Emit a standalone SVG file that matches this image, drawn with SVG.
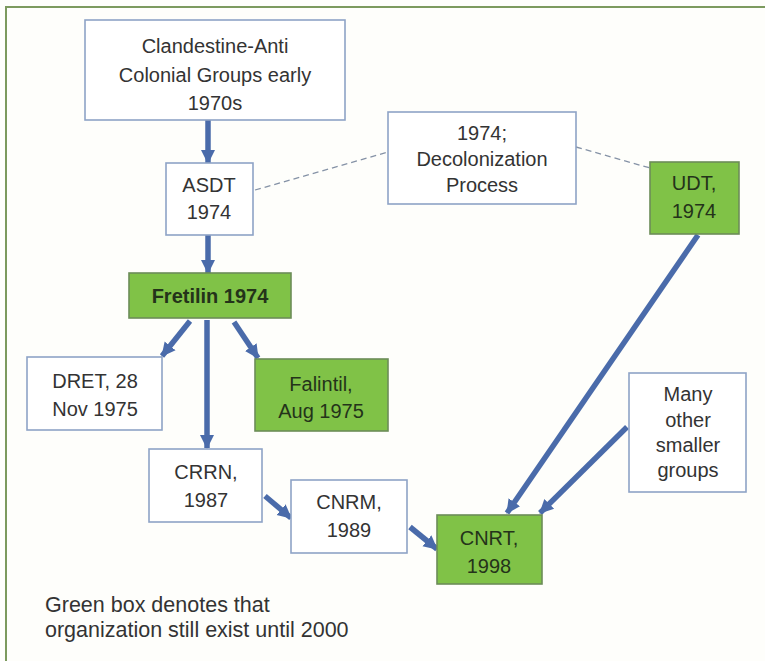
<svg xmlns="http://www.w3.org/2000/svg" width="765" height="661" viewBox="0 0 765 661">
<defs>
<style>
.box{fill:#ffffff;stroke:#8EA3C6;stroke-width:1.6}
.gbox{fill:#80C247;stroke:#6C8C58;stroke-width:1.6}
.t{font-family:"Liberation Sans",Arial,sans-serif;font-size:20px;fill:#333333;text-anchor:middle}
.gt{font-family:"Liberation Sans",Arial,sans-serif;font-size:20px;fill:#24331a;text-anchor:middle}
.lg{font-family:"Liberation Sans",Arial,sans-serif;font-size:21.5px;fill:#333333}
.arr{stroke:#4A6BAA;stroke-width:5.5;fill:none;marker-end:url(#ah)}
.dash{stroke:#8592A6;stroke-width:1.3;fill:none;stroke-dasharray:6 4}
</style>
<marker id="ah" markerUnits="userSpaceOnUse" markerWidth="16" markerHeight="16" viewBox="0 0 16 16" refX="13" refY="8" orient="auto">
<path d="M0,1 L14,8 L0,15 Z" fill="#4A6BAA"/>
</marker>
</defs>
<rect x="0" y="0" width="765" height="661" fill="#FEFEFB"/>
<path d="M6,661 V7 H765" fill="none" stroke="#7C9A5E" stroke-width="2"/>

<g id="connectors">
<line class="arr" x1="208" y1="120" x2="208" y2="163"/>
<line class="arr" x1="208" y1="235" x2="208" y2="273"/>
<line class="arr" x1="190" y1="321" x2="162" y2="356"/>
<line class="arr" x1="207" y1="320" x2="207" y2="448"/>
<line class="arr" x1="234" y1="322" x2="258" y2="358"/>
<line class="arr" x1="265" y1="496" x2="291" y2="518"/>
<line class="arr" x1="410" y1="527" x2="437" y2="549"/>
<line class="arr" x1="698" y1="235" x2="507" y2="513"/>
<line class="arr" x1="627" y1="427" x2="540" y2="513"/>
<line class="dash" x1="255" y1="190" x2="388" y2="152"/>
<line class="dash" x1="576" y1="147" x2="650" y2="168"/>
</g>

<g id="n-clandestine">
<rect class="box" x="85" y="20" width="260" height="100"/>
<text class="t" x="215" y="53">Clandestine-Anti</text>
<text class="t" x="215" y="82">Colonial Groups early</text>
<text class="t" x="215" y="110">1970s</text>
</g>
<g id="n-asdt">
<rect class="box" x="166" y="163" width="87" height="72"/>
<text class="t" x="209" y="192">ASDT</text>
<text class="t" x="209" y="219">1974</text>
</g>
<g id="n-decolonization">
<rect class="box" x="388" y="112" width="188" height="92"/>
<text class="t" x="482" y="140">1974;</text>
<text class="t" x="482" y="166">Decolonization</text>
<text class="t" x="482" y="192">Process</text>
</g>
<g id="n-udt">
<rect class="gbox" x="650" y="162" width="89" height="72"/>
<text class="gt" x="694" y="190">UDT,</text>
<text class="gt" x="694" y="218">1974</text>
</g>
<g id="n-fretilin">
<rect class="gbox" x="129" y="273" width="162" height="45"/>
<text class="gt" x="210" y="303" font-weight="bold">Fretilin 1974</text>
</g>
<g id="n-dret">
<rect class="box" x="27" y="357" width="135" height="73"/>
<text class="t" x="95" y="388">DRET, 28</text>
<text class="t" x="95" y="416">Nov 1975</text>
</g>
<g id="n-falintil">
<rect class="gbox" x="255" y="359" width="133" height="72"/>
<text class="gt" x="321" y="391">Falintil,</text>
<text class="gt" x="321" y="418">Aug 1975</text>
</g>
<g id="n-crrn">
<rect class="box" x="149" y="449" width="113" height="73"/>
<text class="t" x="206" y="479">CRRN,</text>
<text class="t" x="206" y="507">1987</text>
</g>
<g id="n-cnrm">
<rect class="box" x="291" y="480" width="116" height="73"/>
<text class="t" x="349" y="509">CNRM,</text>
<text class="t" x="349" y="537">1989</text>
</g>
<g id="n-cnrt">
<rect class="gbox" x="437" y="515" width="105" height="69"/>
<text class="gt" x="489" y="545">CNRT,</text>
<text class="gt" x="489" y="573">1998</text>
</g>
<g id="n-many">
<rect class="box" x="629" y="373" width="117" height="119"/>
<text class="t" x="688" y="401">Many</text>
<text class="t" x="688" y="427">other</text>
<text class="t" x="688" y="452">smaller</text>
<text class="t" x="688" y="477">groups</text>
</g>
<g id="legend">
<text class="lg" x="45" y="612">Green box denotes that</text>
<text class="lg" x="45" y="637">organization still exist until 2000</text>
</g>
</svg>
